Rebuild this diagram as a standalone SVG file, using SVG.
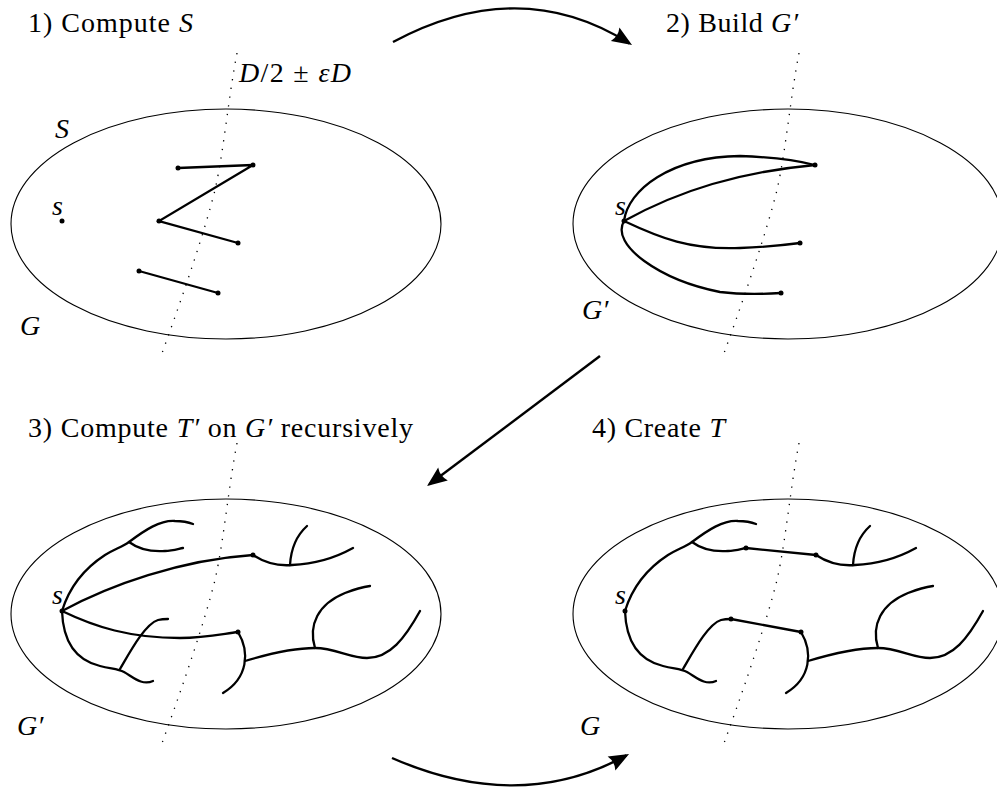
<svg xmlns="http://www.w3.org/2000/svg" width="997" height="788" viewBox="0 0 997 788">
<style>
.ell{fill:none;stroke:#000;stroke-width:1.1}
.cut{fill:none;stroke:#000;stroke-width:1.3;stroke-dasharray:1.3 7.5}
.e{fill:none;stroke:#000;stroke-width:2.3;stroke-linecap:round}
.arr{fill:none;stroke:#000;stroke-width:2.4}
.t{font-family:"Liberation Serif","Times New Roman",serif;font-size:28px;fill:#000}
.i{font-style:italic}
.d{fill:#000}
</style>
<defs>
<marker id="ah" markerUnits="userSpaceOnUse" markerWidth="22" markerHeight="18" refX="17" refY="8" orient="auto" overflow="visible">
<path d="M0,0 L20,8 L0,16 Q4,8 0,0 z" fill="#000"/>
</marker>
<path id="cutline" d="M237,53 C 228,100 224,150 215,190 C 205,230 185,290 161,356"/>
<g id="treeCommon">
<path class="e" d="M253,555 C 265,563 280,566 292,565 C 315,564 335,558 353,548"/>
<path class="e" d="M290,565 C 291,548 297,535 307,526"/>
<path class="e" d="M238,632 C 250,652 248,678 223,693"/>
<path class="e" d="M245,661 C 265,655 290,648 315,648 C 335,648 350,658 367,658 C 390,658 405,638 420,611"/>
<path class="e" d="M315,648 C 308,625 318,604 345,593 C 355,589 362,587 370,586"/>
<path class="e" d="M62,611 C 70,585 85,568 105,555 C 115,549 122,547 129,542 C 145,530 160,520 175,521 C 183,521 188,522 193,524"/>
<path class="e" d="M129,542 C 137,548 150,552 165,551 C 172,551 178,549 183,548"/>
<path class="e" d="M62,611 C 63,640 75,660 100,666 C 112,669 118,669 124,672 C 133,677 142,686 153,681"/>
<path class="e" d="M120,669 C 130,652 145,624 158,620 C 162,619 165,619 168,619"/>
</g>
</defs>

<g id="panel1">
<text class="t" x="28" y="32" textLength="165" lengthAdjust="spacing">1) Compute <tspan class="i">S</tspan></text>
<ellipse class="ell" cx="226" cy="224" rx="215" ry="115"/>
<use href="#cutline" class="cut"/>
<text class="t" x="239" y="82" textLength="112" lengthAdjust="spacing"><tspan class="i">D</tspan>/2 ± <tspan class="i">εD</tspan></text>
<text class="t i" x="55" y="138">S</text>
<text class="t i" x="52" y="215">s</text>
<text class="t i" x="20" y="335">G</text>
<circle class="d" cx="62" cy="221" r="2.5"/>
<path class="e" d="M178,168 L253,165 L159,221 L238,243"/>
<path class="e" d="M139,271 L218,293"/>
<circle class="d" cx="178" cy="168" r="2.5"/>
<circle class="d" cx="253" cy="165" r="2.5"/>
<circle class="d" cx="159" cy="221" r="2.5"/>
<circle class="d" cx="238" cy="243" r="2.5"/>
<circle class="d" cx="139" cy="271" r="2.5"/>
<circle class="d" cx="218" cy="293" r="2.5"/>
</g>

<g id="panel2">
<text class="t" x="666" y="32" textLength="132" lengthAdjust="spacing">2) Build <tspan class="i">G′</tspan></text>
<ellipse class="ell" cx="788" cy="224" rx="215" ry="115"/>
<use href="#cutline" class="cut" transform="translate(562,0)"/>
<text class="t i" x="615" y="215">s</text>
<text class="t i" x="582" y="319">G′</text>
<path class="e" d="M624,221 C 628,190 670,157 740,156 C 770,157 795,160 815,165"/>
<path class="e" d="M624,221 C 680,190 740,172 815,165"/>
<path class="e" d="M624,221 C 660,238 690,250 740,248 C 765,247 785,245 800,243"/>
<path class="e" d="M624,221 C 610,245 660,280 720,292 C 745,295 765,294 781,293"/>
<circle class="d" cx="624" cy="221" r="2.5"/>
<circle class="d" cx="815" cy="165" r="2.5"/>
<circle class="d" cx="800" cy="243" r="2.5"/>
<circle class="d" cx="781" cy="293" r="2.5"/>
</g>

<g id="panel3">
<text class="t" x="28" y="437" textLength="385" lengthAdjust="spacing">3) Compute <tspan class="i">T′</tspan> on <tspan class="i">G′</tspan> recursively</text>
<ellipse class="ell" cx="226" cy="614" rx="215" ry="115"/>
<use href="#cutline" class="cut" transform="translate(0,390)"/>
<text class="t i" x="52" y="604">s</text>
<text class="t i" x="17" y="735">G′</text>
<use href="#treeCommon"/>
<path class="e" d="M62,611 C 110,585 180,560 253,555"/>
<path class="e" d="M62,611 C 95,627 130,638 180,638 C 205,638 222,634 238,632"/>
<circle class="d" cx="62" cy="611" r="2.5"/>
<circle class="d" cx="253" cy="555" r="2.5"/>
<circle class="d" cx="238" cy="632" r="2.5"/>
</g>

<g id="panel4">
<text class="t" x="592" y="437" textLength="133" lengthAdjust="spacing">4) Create <tspan class="i">T</tspan></text>
<ellipse class="ell" cx="788" cy="614" rx="215" ry="115"/>
<use href="#cutline" class="cut" transform="translate(562,390)"/>
<text class="t i" x="615" y="604">s</text>
<text class="t i" x="580" y="735">G</text>
<use href="#treeCommon" transform="translate(563,0)"/>
<path class="e" d="M746,548 L816,555"/>
<path class="e" d="M731,619 L801,632"/>
<circle class="d" cx="625" cy="611" r="2.5"/>
<circle class="d" cx="746" cy="548" r="2.5"/>
<circle class="d" cx="816" cy="555" r="2.5"/>
<circle class="d" cx="731" cy="619" r="2.5"/>
<circle class="d" cx="801" cy="632" r="2.5"/>
</g>

<g id="connectors">
<path class="arr" d="M393,42 Q 520,-26 629.5,43.4" marker-end="url(#ah)"/>
<path class="arr" d="M600,356 L429.4,484.2" marker-end="url(#ah)"/>
<path class="arr" d="M392,758 Q 520,814 626.4,755.4" marker-end="url(#ah)"/>
</g>
</svg>
